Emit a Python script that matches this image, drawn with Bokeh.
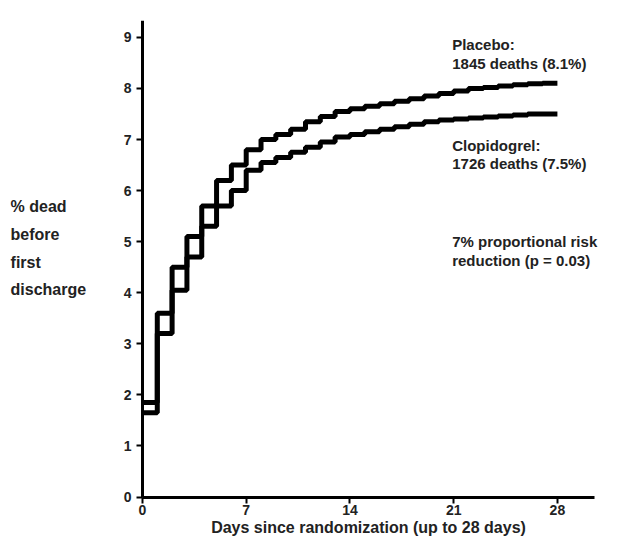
from bokeh.plotting import figure
from bokeh.models import Label, FixedTicker
from bokeh.embed import file_html
from bokeh.resources import INLINE

days = list(range(0, 29))
placebo = [1.85,3.6,4.5,5.1,5.7,6.2,6.5,6.8,7.0,7.1,7.2,7.35,7.45,7.55,7.6,7.65,7.7,7.75,7.8,7.85,7.9,7.95,8.0,8.02,8.05,8.07,8.09,8.1,8.1]
clopi = [1.65,3.2,4.05,4.7,5.3,5.7,6.0,6.4,6.55,6.65,6.75,6.85,6.95,7.05,7.1,7.15,7.2,7.25,7.3,7.35,7.38,7.4,7.42,7.44,7.46,7.48,7.5,7.5,7.5]
ylabel_lines = ["% dead", "before", "first", "discharge"]
ylabel_y = [5.68, 5.14, 4.60, 4.06]
notes = ["Placebo:", "1845 deaths (8.1%)", "Clopidogrel:", "1726 deaths (7.5%)",
         "7% proportional risk", "reduction (p = 0.03)"]
notes_y = [8.86, 8.49, 6.89, 6.54, 5.01, 4.64]

p = figure(width=612, height=541, output_backend="svg", toolbar_location=None,
           x_range=(-9.58, 31.38), y_range=(-0.87, 9.33), min_border_left=0,
           min_border_right=5, min_border_top=20, min_border_bottom=0)
p.outline_line_color = None
p.grid.visible = False
FONT = "Liberation Sans"
TXT = "#222222"
for ys in (placebo, clopi):
    p.step(days, ys, mode="after", line_width=5, line_color="black")
p.xaxis.ticker = FixedTicker(ticks=[0, 7, 14, 21, 28])
p.yaxis.ticker = FixedTicker(ticks=list(range(10)))
p.yaxis.fixed_location = 0
p.xaxis.fixed_location = 0
p.xaxis.bounds = (0, 30.5)
p.yaxis.bounds = (0, 9.33)
for ax in (p.xaxis[0], p.yaxis[0]):
    ax.axis_line_width = 3
    ax.major_tick_line_width = 2
    ax.minor_tick_line_color = None
    ax.major_label_text_font = FONT
    ax.major_label_text_font_style = "bold"
    ax.major_label_text_font_size = "14px"
    ax.major_label_text_color = TXT
    ax.major_tick_out = 6
    ax.major_tick_in = 0
p.xaxis.major_label_standoff = 2
p.xaxis.axis_label = "Days since randomization (up to 28 days)"
p.xaxis.axis_label_text_font = FONT
p.xaxis.axis_label_text_font_style = "bold"
p.xaxis.axis_label_text_font_size = "16px"
p.xaxis.axis_label_text_color = TXT
p.xaxis.axis_label_standoff = 0

for t, y in zip(ylabel_lines, ylabel_y):
    p.add_layout(Label(x=-8.9, y=y, text=t, text_baseline="alphabetic",
                       text_font=FONT, text_font_style="bold", text_font_size="16px",
                       text_color=TXT))
for t, y in zip(notes, notes_y):
    p.add_layout(Label(x=20.9, y=y, text=t, text_baseline="middle",
                       text_font=FONT, text_font_style="bold", text_font_size="15px",
                       text_color=TXT))

open("out.html", "w").write(file_html(p, INLINE))
